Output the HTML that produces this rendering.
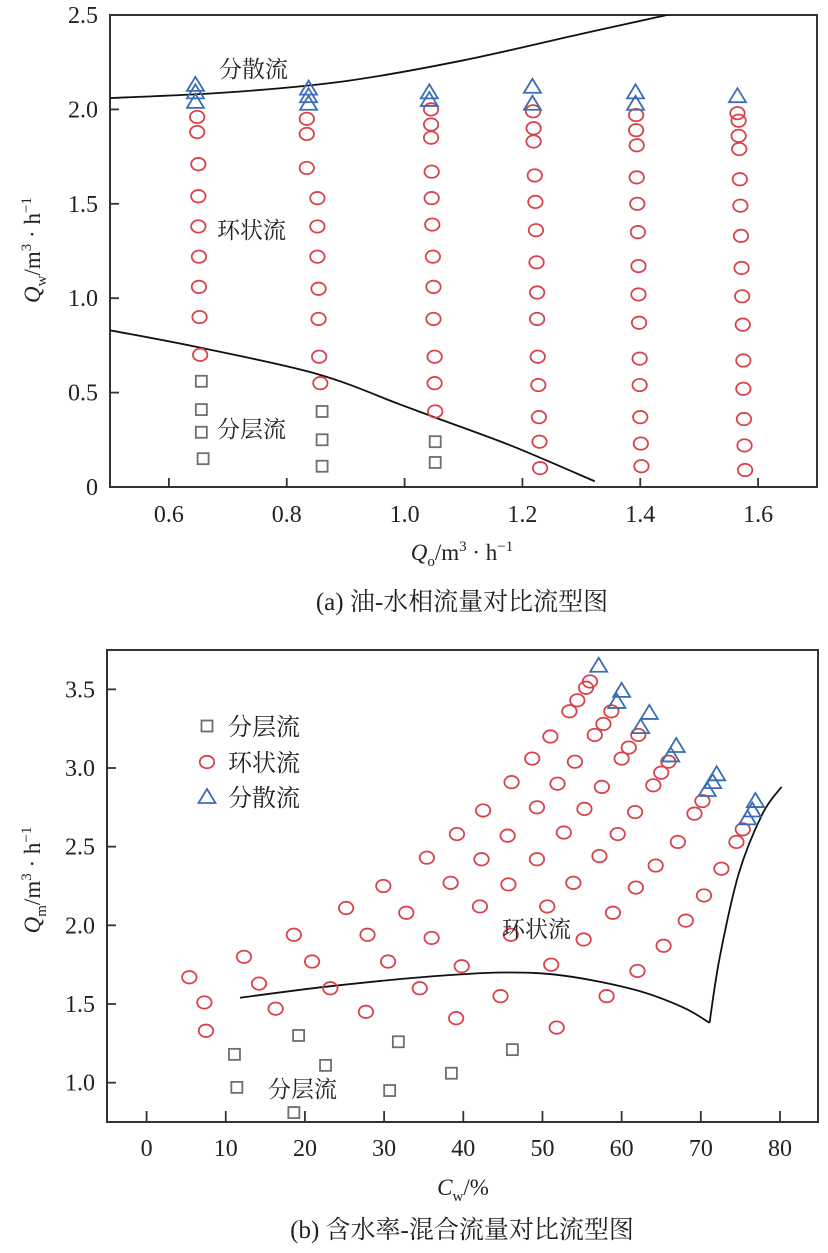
<!DOCTYPE html>
<html><head><meta charset="utf-8">
<style>
body{margin:0;background:#fff;width:828px;height:1253px;overflow:hidden;}
svg{display:block;font-family:"Liberation Serif","Noto Serif CJK SC",serif;}
</style></head>
<body>
<svg id="root" width="828" height="1253" viewBox="0 0 828 1253" xmlns="http://www.w3.org/2000/svg">
<g id="chartA"></g>
<g id="chartB"></g>
<text x="462" y="610" font-size="25" text-anchor="middle" fill="#222">(a) 油-水相流量对比流型图</text>
<text x="462" y="1238" font-size="25" text-anchor="middle" fill="#222">(b) 含水率-混合流量对比流型图</text>
</svg>
<script>
// ---------- Chart A data ----------
const aXTicks=[0.6,0.8,1.0,1.2,1.4,1.6];
const aYTicks=[0,0.5,1.0,1.5,2.0,2.5];
const aSquareX=[0.655,0.655,0.655,0.658,0.86,0.86,0.86,1.052,1.052];
const aSquareY=[0.56,0.41,0.29,0.15,0.40,0.25,0.11,0.24,0.13];
const aCircleX=[0.648,0.648,0.65,0.65,0.65,0.651,0.651,0.652,0.653,
 0.834,0.834,0.834,0.852,0.852,0.852,0.854,0.854,0.855,0.857,
 1.045,1.045,1.045,1.046,1.046,1.047,1.048,1.049,1.049,1.051,1.051,1.052,
 1.218,1.219,1.219,1.221,1.222,1.223,1.224,1.225,1.225,1.226,1.227,1.228,1.229,1.23,
 1.393,1.393,1.394,1.394,1.395,1.396,1.397,1.397,1.398,1.399,1.399,1.4,1.401,1.402,
 1.565,1.567,1.567,1.568,1.569,1.57,1.571,1.572,1.573,1.574,1.575,1.575,1.576,1.577,1.578];
const aCircleY=[1.96,1.88,1.71,1.54,1.38,1.22,1.06,0.90,0.70,
 1.95,1.87,1.69,1.53,1.38,1.22,1.05,0.89,0.69,0.55,
 2.00,1.92,1.85,1.67,1.53,1.39,1.22,1.06,0.89,0.69,0.55,0.40,
 1.99,1.90,1.83,1.65,1.51,1.36,1.19,1.03,0.89,0.69,0.54,0.37,0.24,0.10,
 1.97,1.89,1.81,1.64,1.50,1.35,1.17,1.02,0.87,0.68,0.54,0.37,0.23,0.11,
 1.98,1.94,1.86,1.79,1.63,1.49,1.33,1.16,1.01,0.86,0.67,0.52,0.36,0.22,0.09];
const aTriX=[0.645,0.645,0.645,0.837,0.837,0.837,1.042,1.042,1.217,1.217,1.392,1.392,1.565];
const aTriY=[2.13,2.09,2.04,2.11,2.07,2.03,2.09,2.05,2.12,2.03,2.09,2.03,2.07];
const aUpperX=[0.5,0.7,0.9,1.1,1.3,1.46];
const aUpperY=[2.06,2.09,2.15,2.26,2.40,2.51];
const aLowerX=[0.5,0.65,0.85,0.99,1.05,1.18,1.323];
const aLowerY=[0.83,0.74,0.60,0.44,0.37,0.22,0.03];

// ---------- Chart B data ----------
const bXTicks=[0,10,20,30,40,50,60,70,80];
const bYTicks=[1.0,1.5,2.0,2.5,3.0,3.5];
const bSquareX=[11.1,11.4,19.2,22.6,18.6,31.8,30.7,38.5,46.2];
const bSquareY=[1.18,0.97,1.30,1.11,0.81,1.26,0.95,1.06,1.21];
const bCircleX=[5.4,7.3,7.5,12.3,14.2,16.3,18.6,20.9,23.2,27.7,25.2,27.9,30.5,34.5,29.9,32.8,36.0,39.8,39.1,35.4,38.4,42.3,42.1,39.2,42.5,45.6,45.7,46.0,44.7,46.1,49.3,49.3,50.6,55.2,51.1,51.8,48.7,51.9,52.7,53.9,58.9,58.1,62.0,51.0,54.1,55.3,57.2,61.8,65.3,53.4,54.4,55.5,56.0,56.6,57.7,58.7,57.5,59.5,64.3,68.1,70.4,61.7,67.1,72.6,74.5,75.3,69.2,70.2,60.0,60.9,62.1,64.0,65.0,65.9];
const bCircleY=[1.67,1.51,1.33,1.80,1.63,1.47,1.94,1.77,1.60,1.45,2.11,1.94,1.77,1.60,2.25,2.08,1.92,1.74,1.41,2.43,2.27,2.42,2.12,2.58,2.73,2.57,2.26,1.94,1.55,2.91,2.75,2.42,2.12,1.91,1.75,1.35,3.06,2.90,2.59,2.27,2.08,1.55,1.71,3.20,3.04,2.74,2.44,2.24,1.87,3.36,3.43,3.51,3.55,3.21,3.28,3.36,2.88,2.58,2.38,2.03,2.19,2.72,2.53,2.36,2.53,2.61,2.71,2.79,3.06,3.13,3.21,2.89,2.97,3.04];
const bTriX=[57.1,60.0,59.4,63.5,62.4,66.9,66.2,72.0,71.5,70.8,76.9,76.5,75.9];
const bTriY=[3.65,3.49,3.42,3.35,3.26,3.14,3.08,2.96,2.91,2.86,2.79,2.73,2.68];
const bCurveX=[11.8,22.7,34.7,44.9,52.7,61.7,67.7,71.1,72.4,74.8,77.8,80.2];
const bCurveY=[1.54,1.61,1.67,1.70,1.68,1.59,1.48,1.38,1.80,2.33,2.71,2.88];

const NS="http://www.w3.org/2000/svg";
const RED="#d8434b",BLUE="#3b6db4",GRAY="#6e6e6e",AX="#333";
function mk(parent,tag,attrs){const e=document.createElementNS(NS,tag);for(const k in attrs)e.setAttribute(k,attrs[k]);parent.appendChild(e);return e;}
function lin(d0,d1,r0,r1){return v=>r0+(v-d0)*(r1-r0)/(d1-d0);}

function circle(g,x,y){const e=mk(g,'ellipse',{cx:x,cy:y,rx:7.2,ry:6.2,fill:'none',stroke:RED,'stroke-width':1.8});

}
function square(g,x,y){const e=mk(g,'rect',{x:x-5.5,y:y-5.5,width:11,height:11,fill:'none',stroke:GRAY,'stroke-width':1.8});

}
function tri(g,x,y){const e=mk(g,'path',{d:`M${x-8.5},${y+6} L${x+8.5},${y+6} L${x},${y-8} Z`,fill:'none',stroke:BLUE,'stroke-width':1.8});

}
function smoothCurve(g,xs,ys,sx,sy,name){const P=xs.map((x,i)=>[sx(x),sy(ys[i])]);let d=`M${P[0][0]},${P[0][1]}`;
for(let i=0;i<P.length-1;i++){const p0=P[i-1]||P[i],p1=P[i],p2=P[i+1],p3=P[i+2]||p2;
const c1=[p1[0]+(p2[0]-p0[0])/6,p1[1]+(p2[1]-p0[1])/6],c2=[p2[0]-(p3[0]-p1[0])/6,p2[1]-(p3[1]-p1[1])/6];
d+=` C${c1[0]},${c1[1]} ${c2[0]},${c2[1]} ${p2[0]},${p2[1]}`;}
const e=mk(g,'path',{d:d,fill:'none',stroke:'#111','stroke-width':1.8});

}
function txt(g,x,y,s,size,anchor,name){const e=mk(g,'text',{x:x,y:y,'font-size':size,'text-anchor':anchor||'start',fill:'#222'});e.textContent=s;

return e;}

// ---------- Draw Chart A ----------
(function(){
const g=document.getElementById('chartA');
const L=110,R=817,T=15,B=487;
const sx=lin(0.5,1.7,L,R), sy=lin(0,2.5,B,T);
const cp=mk(g,'clipPath',{id:'clipA'});mk(cp,'rect',{x:L,y:T,width:R-L,height:B-T});
const frame=mk(g,'rect',{x:L,y:T,width:R-L,height:B-T,fill:'none',stroke:AX,'stroke-width':2});


aXTicks.forEach(v=>{const t=mk(g,'line',{x1:sx(v),x2:sx(v),y1:B,y2:B-9,stroke:AX,'stroke-width':1.8});


txt(g,sx(v),B+35,v.toFixed(1),24,'middle','x-tick-label');});
aYTicks.forEach(v=>{const t=mk(g,'line',{x1:L,x2:L+9,y1:sy(v),y2:sy(v),stroke:AX,'stroke-width':1.8});


txt(g,L-12,sy(v)+8,v===0?'0':v.toFixed(1),24,'end','y-tick-label');});
const cg=mk(g,'g',{'clip-path':'url(#clipA)'});
smoothCurve(cg,aUpperX,aUpperY,sx,sy,'dispersed-boundary-curve');
smoothCurve(cg,aLowerX,aLowerY,sx,sy,'stratified-boundary-curve');
aSquareX.forEach((x,i)=>square(g,sx(x),sy(aSquareY[i])));
aCircleX.forEach((x,i)=>circle(g,sx(x),sy(aCircleY[i])));
aTriX.forEach((x,i)=>tri(g,sx(x),sy(aTriY[i])));
txt(g,219,77,'分散流',23,'start','dispersed-region-label');
txt(g,217,238,'环状流',23,'start','annular-region-label');
txt(g,217,437,'分层流',23,'start','stratified-region-label');
const yt=mk(g,'text',{x:0,y:0,'font-size':23,'text-anchor':'middle',fill:'#222',transform:'translate(40,250) rotate(-90)'});
yt.innerHTML='<tspan font-style="italic">Q</tspan><tspan font-size="15" dy="6">w</tspan><tspan dy="-6">/m</tspan><tspan font-size="15" dy="-9">3</tspan><tspan dy="9"> · h</tspan><tspan font-size="15" dy="-9">−1</tspan>';


const xt=mk(g,'text',{x:462,y:560,'font-size':23,'text-anchor':'middle',fill:'#222'});
xt.innerHTML='<tspan font-style="italic">Q</tspan><tspan font-size="15" dy="6">o</tspan><tspan dy="-6">/m</tspan><tspan font-size="15" dy="-9">3</tspan><tspan dy="9"> · h</tspan><tspan font-size="15" dy="-9">−1</tspan>';


})();

// ---------- Draw Chart B ----------
(function(){
const g=document.getElementById('chartB');
const L=107,R=818,T=650,B=1122;
const sx=lin(-5,84.8,L,R), sy=lin(0.75,3.75,B,T);
const frame=mk(g,'rect',{x:L,y:T,width:R-L,height:B-T,fill:'none',stroke:AX,'stroke-width':2});


bXTicks.forEach(v=>{const t=mk(g,'line',{x1:sx(v),x2:sx(v),y1:B,y2:B-11,stroke:AX,'stroke-width':1.8});


txt(g,sx(v),B+34,String(v),24,'middle','x-tick-label');});
bYTicks.forEach(v=>{const t=mk(g,'line',{x1:L,x2:L+9,y1:sy(v),y2:sy(v),stroke:AX,'stroke-width':1.8});


txt(g,L-12,sy(v)+8,v.toFixed(1),24,'end','y-tick-label');});
smoothCurve(g,bCurveX.slice(0,8),bCurveY.slice(0,8),sx,sy,'boundary-curve-lower');
smoothCurve(g,bCurveX.slice(7),bCurveY.slice(7),sx,sy,'boundary-curve-rising');
bSquareX.forEach((x,i)=>square(g,sx(x),sy(bSquareY[i])));
bCircleX.forEach((x,i)=>circle(g,sx(x),sy(bCircleY[i])));
bTriX.forEach((x,i)=>tri(g,sx(x),sy(bTriY[i])));
const lg=mk(g,'g',{});


square(lg,207,726); txt(lg,228,735,'分层流',24,'start','legend-entry-stratified');
circle(lg,207,762); txt(lg,228,771,'环状流',24,'start','legend-entry-annular');
tri(lg,207,797); txt(lg,228,806,'分散流',24,'start','legend-entry-dispersed');
txt(g,502,937,'环状流',23,'start','annular-region-label');
txt(g,268,1097,'分层流',23,'start','stratified-region-label');
const yt=mk(g,'text',{x:0,y:0,'font-size':23,'text-anchor':'middle',fill:'#222',transform:'translate(40,880) rotate(-90)'});
yt.innerHTML='<tspan font-style="italic">Q</tspan><tspan font-size="15" dy="6">m</tspan><tspan dy="-6">/m</tspan><tspan font-size="15" dy="-9">3</tspan><tspan dy="9"> · h</tspan><tspan font-size="15" dy="-9">−1</tspan>';


const xt=mk(g,'text',{x:463,y:1195,'font-size':23,'text-anchor':'middle',fill:'#222'});
xt.innerHTML='<tspan font-style="italic">C</tspan><tspan font-size="15" dy="6">w</tspan><tspan dy="-6">/%</tspan>';


})();
</script>
</body></html>
